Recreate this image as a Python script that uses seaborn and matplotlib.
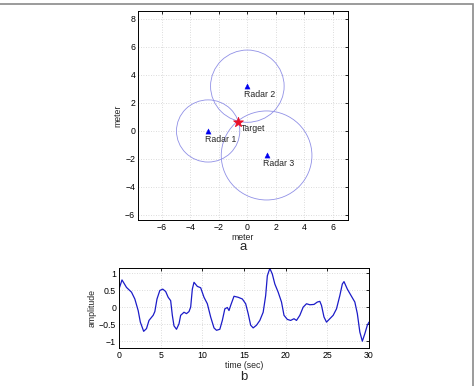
import numpy as np
import pandas as pd
import matplotlib
matplotlib.use("Agg")
import matplotlib.pyplot as plt
from matplotlib.patches import Circle, Rectangle
import seaborn as sns

# radar geometry (panel a)
radar_names = ["Radar 1", "Radar 2", "Radar 3"]
radar_x = [-2.75, 0.0, 1.35]
radar_y = [0.0, 3.2, -1.75]
radar_r = [2.22, 2.58, 3.18]
target_x = [-0.65]
target_y = [0.65]

# respiration-like signal (panel b)
t_sec = [0.0, 0.36, 0.9, 1.5, 1.9, 2.3, 2.56, 2.96, 3.3, 3.6, 4.1, 4.3, 4.56, 4.9, 5.25,
         5.6, 5.9, 6.2, 6.4, 6.6, 6.9, 7.2, 7.4, 7.8, 8.1, 8.4, 8.6, 8.8, 9.0, 9.4,
         9.8, 10.2, 10.6, 11.0, 11.4, 11.7, 12.1, 12.4, 12.7, 13.0, 13.2, 13.4, 13.8,
         14.3, 14.8, 15.2, 15.5, 15.8, 16.1, 16.5, 16.9, 17.3, 17.6, 17.8, 18.1, 18.4,
         18.7, 19.1, 19.5, 19.8, 20.2, 20.6, 21.0, 21.3, 21.7, 22.1, 22.5, 22.9, 23.4,
         23.8, 24.1, 24.3, 24.6, 24.9, 25.3, 25.7, 26.1, 26.5, 26.8, 27.0, 27.4, 27.8,
         28.3, 28.6, 28.9, 29.2, 29.5, 29.8, 30.0]
amp = [0.53, 0.8, 0.58, 0.44, 0.24, -0.1, -0.44, -0.71, -0.63, -0.39, -0.24, -0.13, 0.24,
       0.49, 0.53, 0.46, 0.29, 0.19, -0.24, -0.55, -0.65, -0.49, -0.24, -0.15, -0.19,
       -0.13, 0.0, 0.53, 0.73, 0.61, 0.57, 0.29, 0.1, -0.29, -0.61, -0.68, -0.65, -0.39,
       -0.05, -0.01, -0.1, 0.05, 0.32, 0.29, 0.24, 0.1, -0.19, -0.53, -0.61, -0.53,
       -0.39, -0.15, 0.34, 0.92, 1.14, 0.97, 0.68, 0.44, 0.15, -0.24, -0.36, -0.39,
       -0.34, -0.39, -0.24, 0.0, 0.1, 0.07, 0.08, 0.15, 0.17, 0.05, -0.29, -0.44, -0.34,
       -0.24, -0.05, 0.34, 0.68, 0.75, 0.53, 0.36, 0.15, -0.19, -0.73, -1.0, -0.78,
       -0.53, -0.44]

xticks_a = [-6, -4, -2, 0, 2, 4, 6]
yticks_a = [-6, -4, -2, 0, 2, 4, 6, 8]
xticks_b = [0, 5, 10, 15, 20, 25, 30]
yticks_b = [-1, -0.5, 0, 0.5, 1]
ytick_labels_b = ["\u22121", "\u22120.5", "0", "0.5", "1"]

FS = 6.3

sns.set_theme(style="white")
plt.rcParams['font.family'] = ['Liberation Sans', 'DejaVu Sans']
plt.rcParams['font.size'] = FS

fig = plt.figure(figsize=(4.74, 3.86), dpi=100)

# outer frame
fig.patches.append(Rectangle((-0.01, -0.01), 473.5 / 474 + 0.01, 1 - 3.5 / 386 + 0.01,
                             transform=fig.transFigure, fill=False,
                             edgecolor="#8a8a8a", linewidth=1.2))

ax1 = fig.add_axes([138 / 474, 1 - 220 / 386, 210 / 474, 209 / 386])
ax2 = fig.add_axes([119 / 474, 1 - 348 / 386, 250 / 474, 80 / 386])

def style_axes(ax):
    ax.grid(True, linestyle=(0, (1, 2)), color="#d0d0d0", linewidth=0.6)
    ax.tick_params(direction="in", length=2.5, width=0.6, labelsize=FS,
                   top=True, right=True, pad=2, colors="black")
    for s in ax.spines.values():
        s.set_color("black")
        s.set_linewidth(0.7)

# panel a
df_r = pd.DataFrame({"x": radar_x, "y": radar_y})
for cx, cy, r in zip(radar_x, radar_y, radar_r):
    ax1.add_patch(Circle((cx, cy), r, fill=False, edgecolor="#9090e6", linewidth=0.6))
sns.scatterplot(data=df_r, x="x", y="y", ax=ax1, marker="^", color="#0000ee",
                s=14, edgecolor="#0000ee", zorder=3)
sns.scatterplot(x=target_x, y=target_y, ax=ax1, marker="*", color="#e8102a",
                s=55, edgecolor="#e8102a", zorder=4)
for name, cx, cy in zip(radar_names, radar_x, radar_y):
    ax1.text(cx - 0.22, cy - 0.6, name, ha="left", va="center", fontsize=FS)
ax1.text(target_x[0] + 0.2, target_y[0] - 0.45, "Target", ha="left", va="center", fontsize=FS)
ax1.set_xlim(-7.67, 7.06)
ax1.set_ylim(-6.36, 8.57)
ax1.set_xticks(xticks_a)
ax1.set_yticks(yticks_a)
ax1.set_xlabel("meter", fontsize=FS, labelpad=1)
ax1.set_ylabel("meter", fontsize=FS, labelpad=2)
style_axes(ax1)
ax1.set_axisbelow(True)
fig.text(243 / 474, 1 - 247 / 386, "a", ha="center", va="center", fontsize=9.5)

# panel b
df_b = pd.DataFrame({"t": t_sec, "a": amp})
sns.lineplot(data=df_b, x="t", y="a", ax=ax2, color="#1c1cc8", linewidth=0.9)
ax2.set_xlim(0, 30)
ax2.set_ylim(-1.2, 1.15)
ax2.set_xticks(xticks_b)
ax2.set_yticks(yticks_b)
ax2.set_yticklabels(ytick_labels_b)
ax2.set_xlabel("time (sec)", fontsize=FS, labelpad=1)
ax2.set_ylabel("amplitude", fontsize=FS, labelpad=2)
style_axes(ax2)
fig.text(244 / 474, 1 - 377 / 386, "b", ha="center", va="center", fontsize=9.5)

fig.savefig("out.png", dpi=100)
